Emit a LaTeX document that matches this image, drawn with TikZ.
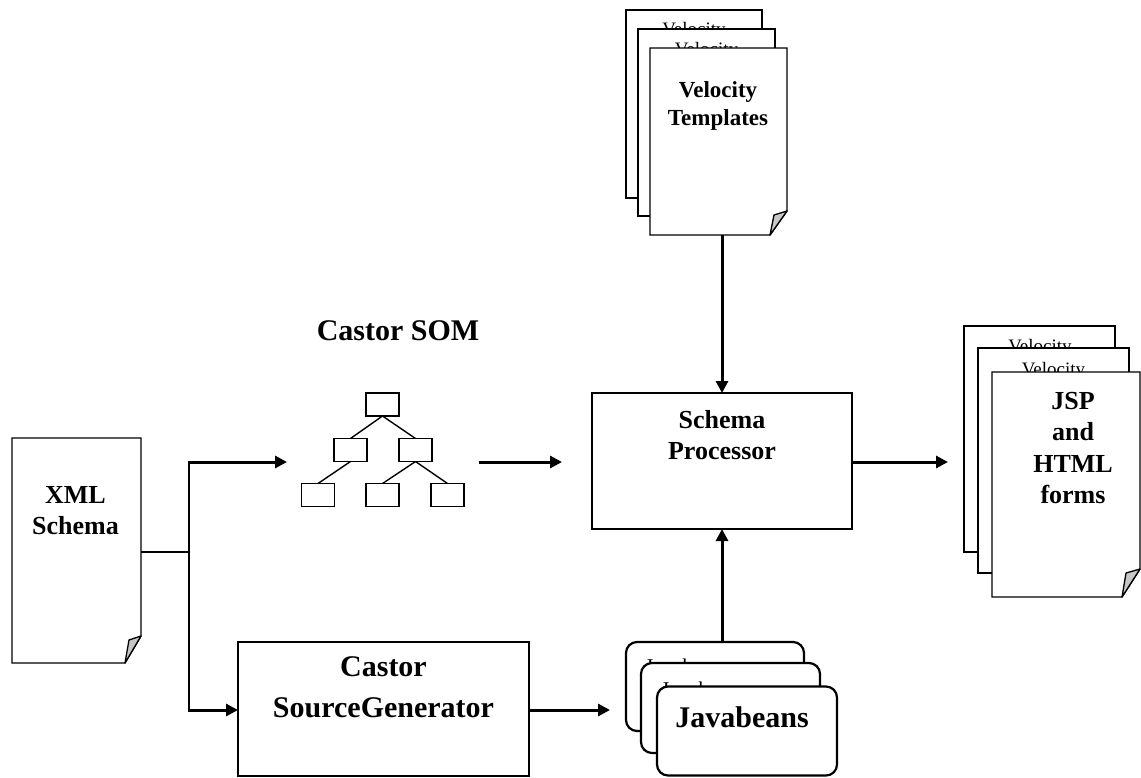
\documentclass[tikz,border=0pt]{standalone}
\usepackage{fontspec}
\setmainfont{Liberation Serif}
\usetikzlibrary{arrows.meta}
\newcommand\pgoutline[3]{%
  \draw[outl] (#1.north west) -- (#1.north east) -- ([yshift=#3pt]#1.south east)
    -- ([xshift=-#2pt]#1.south east) -- (#1.south west) -- cycle;
  \draw[foldfill] ([xshift=-#2pt]#1.south east) -- ([yshift=#3pt]#1.south east)
    -- ([xshift=-#2pt+4pt,yshift=#3pt-4pt]#1.south east) -- cycle;}
\newcommand\pgplain[1]{%
  \draw[outl] (#1.north west) rectangle (#1.south east);}
\begin{document}
\begin{tikzpicture}[x=1pt,y=-1pt,
  outl/.style={draw=black,line width=1.4pt,fill=white,line join=miter},
  foldfill/.style={fill=black!22,draw=black,line width=1.3pt,line join=round},
  pg/.style={draw=none,inner sep=0pt,outer sep=0pt},
  bean/.style={draw=black,line width=2.2pt,fill=white,rounded corners=11pt,inner sep=0pt,outer sep=0pt},
  blk/.style={draw=black,line width=1.4pt,fill=white,inner sep=0pt,outer sep=0pt},
  tbox/.style={draw=black,line width=1.5pt,fill=white,inner sep=0pt,outer sep=0pt,minimum width=33pt,minimum height=23pt},
  tline/.style={line width=1.4pt},
  thinline/.style={line width=1.3pt},
  flow/.style={line width=3pt,-{Triangle[length=12pt,width=12pt]}},
  bigtxt/.style={font=\fontsize{26}{31.5}\selectfont\bfseries,align=center,inner sep=0pt},
  hugetxt/.style={font=\fontsize{30}{41}\selectfont\bfseries,align=center,inner sep=0pt},
  veltxt/.style={font=\fontsize{23}{28}\selectfont\bfseries,align=center,inner sep=0pt},
  backtxt/.style={font=\fontsize{19}{22}\selectfont,inner sep=0pt,anchor=base}]
\useasboundingbox (0,0) rectangle (1141,777);

% ---------- XML Schema page ----------
\path node[pg,minimum width=129pt,minimum height=225pt] (xml) at (76.5,550.5) {};
\pgoutline{xml}{16}{27}
\node[bigtxt] (xmltxt) at (75.5,510.5) {XML\\Schema};

% ---------- Velocity templates stack ----------
\path node[pg,minimum width=136pt,minimum height=188pt] (velA) at (694,104) {};
\pgplain{velA}
\node[backtxt] (velAt) at (694,35.5) {Velocity};
\path node[pg,minimum width=137pt,minimum height=187pt] (velB) at (706.5,122.5) {};
\pgplain{velB}
\node[backtxt] (velBt) at (706.5,55.5) {Velocity};
\path node[pg,minimum width=137pt,minimum height=187pt] (velC) at (718.5,141.5) {};
\pgoutline{velC}{17}{24}
\node[veltxt] (velCt) at (718,105.5) {Velocity\\Templates};

% ---------- Output stack ----------
\path node[pg,minimum width=151pt,minimum height=226pt] (outA) at (1039.5,439) {};
\pgplain{outA}
\node[backtxt] (outAt) at (1040,352.5) {Velocity};
\path node[pg,minimum width=151pt,minimum height=225pt] (outB) at (1053.5,460.5) {};
\pgplain{outB}
\node[backtxt] (outBt) at (1053.5,375.5) {Velocity};
\path node[pg,minimum width=148pt,minimum height=225pt] (outC) at (1066,484.5) {};
\pgoutline{outC}{18}{28}
\node[bigtxt] (outCt) at (1073,448) {JSP\\and\\HTML\\forms};

% ---------- Javabeans stack ----------
\node[bean,minimum width=178pt,minimum height=89pt] (jbA) at (715,686.5) {};
\node[font=\fontsize{21}{24}\selectfont,inner sep=0pt,anchor=base west] (jbAt) at (645,673) {Javabeans};
\node[bean,minimum width=179pt,minimum height=90pt] (jbB) at (730.5,708) {};
\node[font=\fontsize{21}{24}\selectfont,inner sep=0pt,anchor=base west] (jbBt) at (661,696) {Javabeans};
\node[bean,minimum width=180pt,minimum height=89pt] (jbC) at (747,731) {};
\node[font=\fontsize{30}{36}\selectfont\bfseries,inner sep=0pt,anchor=base] (jbCt) at (742,727) {Javabeans};

% ---------- Schema Processor ----------
\node[blk,minimum width=260pt,minimum height=136pt] (sp) at (722,461) {};
\node[bigtxt] (sptxt) at (722,435) {Schema\\Processor};

% ---------- Castor SourceGenerator ----------
\node[blk,minimum width=291pt,minimum height=134pt] (csg) at (383.5,709) {};
\node[hugetxt] (csgtxt) at (383.5,687.5) {Castor\\SourceGenerator};

% ---------- Castor SOM tree ----------
\node[font=\fontsize{30}{36}\selectfont\bfseries,inner sep=0pt,anchor=base] (somtxt) at (398,340) {Castor SOM};
\node[tbox] (t1) at (382.5,404.5) {};
\node[tbox] (t2) at (350.5,450) {};
\node[tbox] (t3) at (415.5,450) {};
\node[tbox] (t4) at (318,495) {};
\node[tbox] (t5) at (382.5,495) {};
\node[tbox] (t6) at (447.5,495) {};
\draw[tline] (t1.south) -- (t2.north);
\draw[tline] (t1.south) -- (t3.north);
\draw[tline] (t2.south) -- (t4.north);
\draw[tline] (t3.south) -- (t5.north);
\draw[tline] (t3.south) -- (t6.north);

% ---------- connectors ----------
\coordinate (split) at (189,552);
\coordinate (splitT) at (189,462);
\coordinate (splitB) at (189,710);
\coordinate (somIn) at (287,462);
\coordinate (somOut) at (479,462);
\coordinate (spIn) at (562,462);
\coordinate (outIn) at (948,462);
\coordinate (jbIn) at (610,710);

\draw[thinline] (xml.east |- split) -- (split);
\draw[thinline] (splitT) -- (splitB);
\draw[flow] ([xshift=-1pt]splitT) -- (somIn);
\draw[flow] ([xshift=-1pt]splitB) -- (csg.west |- splitB);
\draw[flow] (somOut) -- (spIn);
\draw[flow] (csg.east |- jbIn) -- (jbIn);
\draw[flow] (sp.north |- velC.south) -- (sp.north);
\draw[flow] (sp.south |- jbA.north) -- (sp.south);
\draw[flow] (sp.east |- outIn) -- (outIn);
\end{tikzpicture}
\end{document}
